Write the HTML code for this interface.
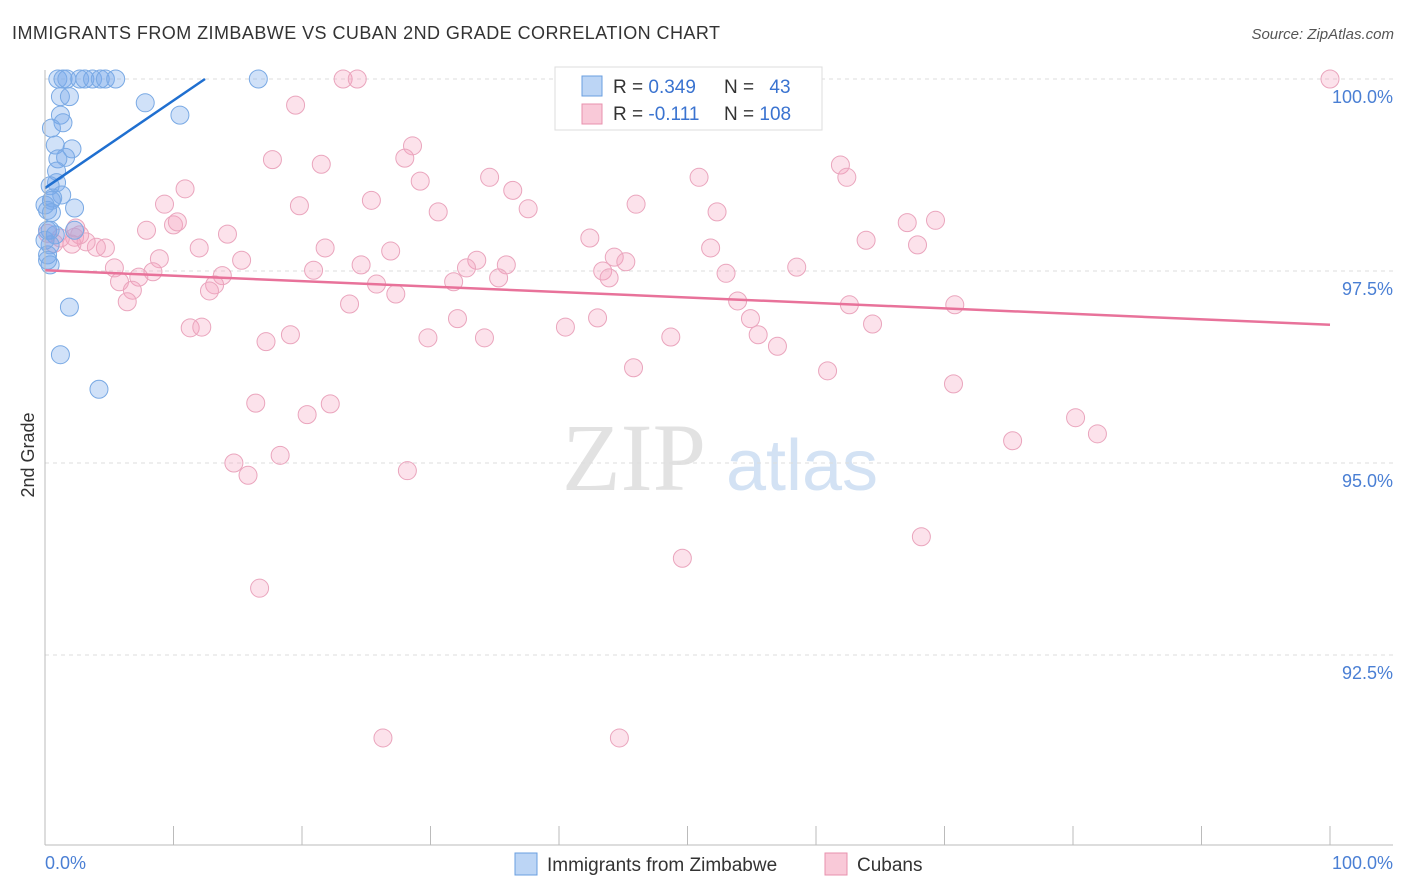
<!DOCTYPE html>
<html><head><meta charset="utf-8"><style>
body{margin:0;background:#fff;font-family:"Liberation Sans",sans-serif}
svg{display:block}
</style></head><body>
<svg id="c" width="1406" height="892" xmlns="http://www.w3.org/2000/svg">
<text x="12" y="39" font-size="18" fill="#333" textLength="708" lengthAdjust="spacing">IMMIGRANTS FROM ZIMBABWE VS CUBAN 2ND GRADE CORRELATION CHART</text>
<text x="1394" y="39" font-size="15" fill="#555" text-anchor="end" font-style="italic">Source: ZipAtlas.com</text>
<text x="34" y="455" font-size="18" fill="#333" font-weight="normal" text-anchor="middle" transform="rotate(-90 34 455)">2nd Grade</text>
<g><text x="634" y="490" font-size="96" font-family="Liberation Serif" fill="#e2e2e2" text-anchor="middle">ZIP</text><text x="802" y="490" font-size="72" fill="#d3e2f4" text-anchor="middle">atlas</text></g>
<g id="grid"></g><g id="pts"></g><g id="lines"></g>
<line x1="45" y1="845" x2="1393" y2="845" stroke="#bbb"/>
<line x1="45" y1="70" x2="45" y2="845" stroke="#bbb"/>
<text x="45" y="869" font-size="18" fill="#4a7fd4">0.0%</text>
<text x="1393" y="869" font-size="18" fill="#4a7fd4" text-anchor="end">100.0%</text>
<g>
<rect x="555" y="67" width="267" height="63" fill="#fff" stroke="#ddd"/>
<rect x="582" y="76" width="20" height="20" fill="#bcd5f5" stroke="#6a9fe0"/>
<rect x="582" y="104" width="20" height="20" fill="#f9c9d8" stroke="#e891ae"/>
<text x="613" y="93" font-size="19" fill="#333">R = <tspan fill="#3a73d0">0.349</tspan></text>
<text x="724" y="93" font-size="19" fill="#333">N = <tspan fill="#3a73d0" dx="10">43</tspan></text>
<text x="613" y="120" font-size="19" fill="#333">R = <tspan fill="#3a73d0">-0.111</tspan></text>
<text x="724" y="120" font-size="19" fill="#333">N = <tspan fill="#3a73d0">108</tspan></text>
</g>
<g>
<rect x="515" y="853" width="22" height="22" fill="#bcd5f5" stroke="#6a9fe0"/>
<text x="547" y="871" font-size="19" fill="#333">Immigrants from Zimbabwe</text>
<rect x="825" y="853" width="22" height="22" fill="#f9c9d8" stroke="#e891ae"/>
<text x="857" y="871" font-size="19" fill="#333">Cubans</text>
</g>
</svg>
<script>
const yTicks=[100,97.5,95,92.5];
const yTickLabels=["100.0%","97.5%","95.0%","92.5%"];
const xTicks=[10,20,30,40,50,60,70,80,90,100];
const blueX=[1.0,1.4,1.7,2.7,3.1,3.7,4.3,4.7,5.5,16.6,1.2,1.9,7.8,10.5,1.2,1.4,0.5,0.8,2.1,1.6,1.0,0.9,0.9,0.4,1.3,2.3,0.6,0.2,0.5,0.2,0.8,0.4,0.2,0.4,1.9,1.2,4.2,0,0.5,0,0.4,2.3,0.2];
const blueY=[100,100,100,100,100,100,100,100,100,100,99.77,99.77,99.69,99.53,99.53,99.43,99.36,99.14,99.09,98.98,98.96,98.80,98.65,98.61,98.49,98.32,98.45,98.29,98.42,98.03,97.97,97.84,97.71,97.58,97.03,96.41,95.96,98.36,98.26,97.90,98.03,98.03,97.64];
const pinkX=[100,23.2,24.3,19.5,28.6,28.0,17.7,21.5,61.9,62.4,50.9,34.6,29.2,36.4,10.9,25.4,19.8,9.3,46.0,30.6,37.6,52.3,69.3,67.1,10.0,10.3,7.9,14.2,42.4,2.3,63.9,67.9,21.8,12.0,26.9,51.8,4.7,4.0,3.2,2.7,2.1,0.7,0.2,1.2,2.4,15.3,33.6,44.3,45.2,8.9,35.9,24.6,20.9,32.8,58.5,5.4,43.4,53.0,8.4,7.3,35.3,13.8,31.8,43.9,5.8,25.8,13.2,27.3,12.8,6.8,6.4,23.7,53.9,62.6,70.8,32.1,43.0,54.9,11.3,12.2,64.4,40.5,19.1,29.8,34.2,48.7,55.5,17.2,57.0,45.8,60.9,70.7,16.4,22.2,20.4,80.2,81.9,75.3,14.7,18.3,28.2,15.8,68.2,49.6,16.7,26.3,44.7];
const pinkY=[100,100,100,99.66,99.13,98.97,98.95,98.89,98.88,98.72,98.72,98.72,98.67,98.55,98.57,98.42,98.35,98.37,98.37,98.27,98.31,98.27,98.16,98.13,98.10,98.14,98.03,97.98,97.93,97.94,97.90,97.84,97.80,97.80,97.76,97.80,97.80,97.81,97.88,97.97,97.85,97.86,97.99,97.93,98.06,97.64,97.64,97.68,97.62,97.66,97.58,97.58,97.51,97.54,97.55,97.54,97.50,97.47,97.49,97.42,97.41,97.44,97.36,97.41,97.36,97.33,97.32,97.20,97.24,97.25,97.10,97.07,97.11,97.06,97.06,96.88,96.89,96.88,96.76,96.77,96.81,96.77,96.67,96.63,96.63,96.64,96.67,96.58,96.52,96.24,96.20,96.03,95.78,95.77,95.63,95.59,95.38,95.29,95.00,95.10,94.90,94.84,94.04,93.76,93.37,91.42,91.42];
const blueTrend=[[0,98.58],[12.45,100]];
const pinkTrend=[[0,97.51],[100,96.80]];
const X=v=>45+v*12.85, Y=v=>79+(100-v)*76.8;
const NS="http://www.w3.org/2000/svg";
function mk(tag,parent,attrs){const e=document.createElementNS(NS,tag);for(const k in attrs)e.setAttribute(k,attrs[k]);parent.appendChild(e);return e;}
const grid=document.getElementById('grid');
yTicks.forEach((t,i)=>{
 const l=mk('line',grid,{x1:45,x2:1393,y1:Y(t),y2:Y(t),stroke:'#ddd','stroke-dasharray':'4,4'});
 
 
 const tx=mk('text',grid,{x:1393,y:Y(t)+24,'font-size':18,fill:'#4a7fd4','text-anchor':'end'});
 tx.textContent=yTickLabels[i];
 
 
});
xTicks.forEach(t=>{
 const l=mk('line',grid,{x1:X(t),x2:X(t),y1:826,y2:845,stroke:'#bbb'});
 
 
});
const pts=document.getElementById('pts');
pinkX.forEach((x,i)=>{
 const c=mk('circle',pts,{cx:X(x),cy:Y(pinkY[i]),r:9,fill:'rgba(244,160,190,0.3)',stroke:'#eaa5bd','stroke-width':1});
 
 
});
blueX.forEach((x,i)=>{
 const c=mk('circle',pts,{cx:X(x),cy:Y(blueY[i]),r:9,fill:'rgba(120,170,235,0.35)',stroke:'#79a9e4','stroke-width':1});
 
 
});
const lines=document.getElementById('lines');
const bl=mk('line',lines,{x1:X(blueTrend[0][0]),y1:Y(blueTrend[0][1]),x2:X(blueTrend[1][0]),y2:Y(blueTrend[1][1]),stroke:'#1f6fd0','stroke-width':2.5});


const pl=mk('line',lines,{x1:X(pinkTrend[0][0]),y1:Y(pinkTrend[0][1]),x2:X(pinkTrend[1][0]),y2:Y(pinkTrend[1][1]),stroke:'#e8729a','stroke-width':2.5});


</script>
</body></html>
